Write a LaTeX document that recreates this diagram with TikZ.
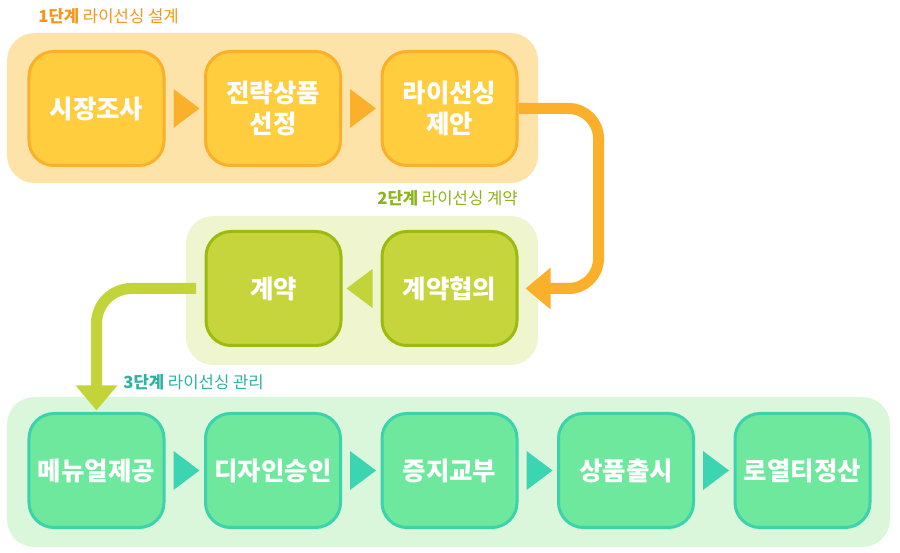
\documentclass[tikz,border=0pt]{standalone}
\usepackage{fontspec}
\usepackage{tikz}
\usepackage{xcolor}
\usetikzlibrary{arrows.meta}
\usetikzlibrary{calc}
\newfontfamily\kr{Noto Sans CJK KR}
\definecolor{orangetxt}{HTML}{F5961F}
\definecolor{orangepanel}{HTML}{FEE3A8}
\definecolor{orangebox}{HTML}{FFCD3D}
\definecolor{orangeline}{HTML}{FBB02B}
\definecolor{greentxt}{HTML}{8CB51A}
\definecolor{greenpanel}{HTML}{EEF5CF}
\definecolor{greenbox}{HTML}{C5D53B}
\definecolor{greenline}{HTML}{9DBA10}
\definecolor{greenarrow}{HTML}{C3D43B}
\definecolor{tealtxt}{HTML}{2DB3A0}
\definecolor{tealpanel}{HTML}{DAF7DC}
\definecolor{tealbox}{HTML}{6EE89D}
\definecolor{tealline}{HTML}{3CD3AC}
\definecolor{tealarrow}{HTML}{3BD5B2}
\newcommand\steptri[3]{%
	\path ($(#2)!0.16cm!(#3)$) coordinate (tb) ($(#2)!0.68cm!(#3)$) coordinate (tt);
	\fill[#1] ($(tb)!0.39cm!90:(tt)$) -- (tt) -- ($(tb)!0.39cm!-90:(tt)$) -- cycle;}
\begin{document}
\begin{tikzpicture}[
	panel/.style={rounded corners=0.55cm},
	stepbox/.style={draw, rounded corners=0.5cm, minimum width=2.70cm, minimum height=2.28cm, line width=0.06cm, align=center, text=white, font=\kr\bfseries\fontsize{14.5}{18}\selectfont},
	stagetitle/.style={anchor=west, inner sep=0pt, font=\kr\fontsize{9.5}{11}\selectfont},
	flow/.style={line width=0.22cm, -{Triangle[length=0.5cm,width=0.8cm]}}
	]
					\useasboundingbox (0,0) rectangle (18,-11.06);
					\fill[panel, orangepanel] (0.14,-0.66) rectangle (10.76,-3.66);
					\fill[panel, greenpanel] (3.72,-4.32) rectangle (10.76,-7.30);
					\fill[panel, tealpanel] (0.14,-7.94) rectangle (17.80,-10.94);
					\node[stagetitle, text=orangetxt] (title1) at (0.76,-0.32) {{\bfseries 1단계} 라이선싱 설계};
					\node[stagetitle, text=greentxt] (title2) at (7.54,-3.96) {{\bfseries 2단계} 라이선싱 계약};
					\node[stagetitle, text=tealtxt] (title3) at (2.46,-7.64) {{\bfseries 3단계} 라이선싱 관리};
					\node[stepbox, fill=orangebox, draw=orangeline] (market) at (1.93,-2.17) {시장조사};
					\node[stepbox, fill=orangebox, draw=orangeline] (select) at (5.46,-2.17) {전략상품\\선정};
					\node[stepbox, fill=orangebox, draw=orangeline] (propose) at (8.99,-2.17) {라이선싱\\제안};
					\node[stepbox, fill=greenbox, draw=greenline] (contract) at (5.47,-5.77) {계약};
					\node[stepbox, fill=greenbox, draw=greenline] (negotiate) at (8.99,-5.77) {계약협의};
					\node[stepbox, fill=tealbox, draw=tealline] (manual) at (1.93,-9.41) {메뉴얼제공};
					\node[stepbox, fill=tealbox, draw=tealline] (design) at (5.46,-9.41) {디자인승인};
					\node[stepbox, fill=tealbox, draw=tealline] (label) at (8.99,-9.41) {증지교부};
					\node[stepbox, fill=tealbox, draw=tealline] (launch) at (12.52,-9.41) {상품출시};
					\node[stepbox, fill=tealbox, draw=tealline] (royalty) at (16.05,-9.41) {로열티정산};
					\steptri{orangeline}{market.east}{select.west}
					\steptri{orangeline}{select.east}{propose.west}
					\steptri{greenarrow}{negotiate.west}{contract.east}
					\steptri{tealarrow}{manual.east}{design.west}
					\steptri{tealarrow}{design.east}{label.west}
					\steptri{tealarrow}{label.east}{launch.west}
					\steptri{tealarrow}{launch.east}{royalty.west}
					\coordinate (turnA) at (11.97,-4.0);
					\draw[flow, orangeline, rounded corners=0.6cm, shorten >=0.14cm] (propose.east) -| (turnA) |- (negotiate.east);
					\draw[flow, greenarrow, rounded corners=0.7cm, shorten <=0.17cm, shorten >=0.03cm] (contract.west) -| (manual.north);
				\end{tikzpicture}
\end{document}
